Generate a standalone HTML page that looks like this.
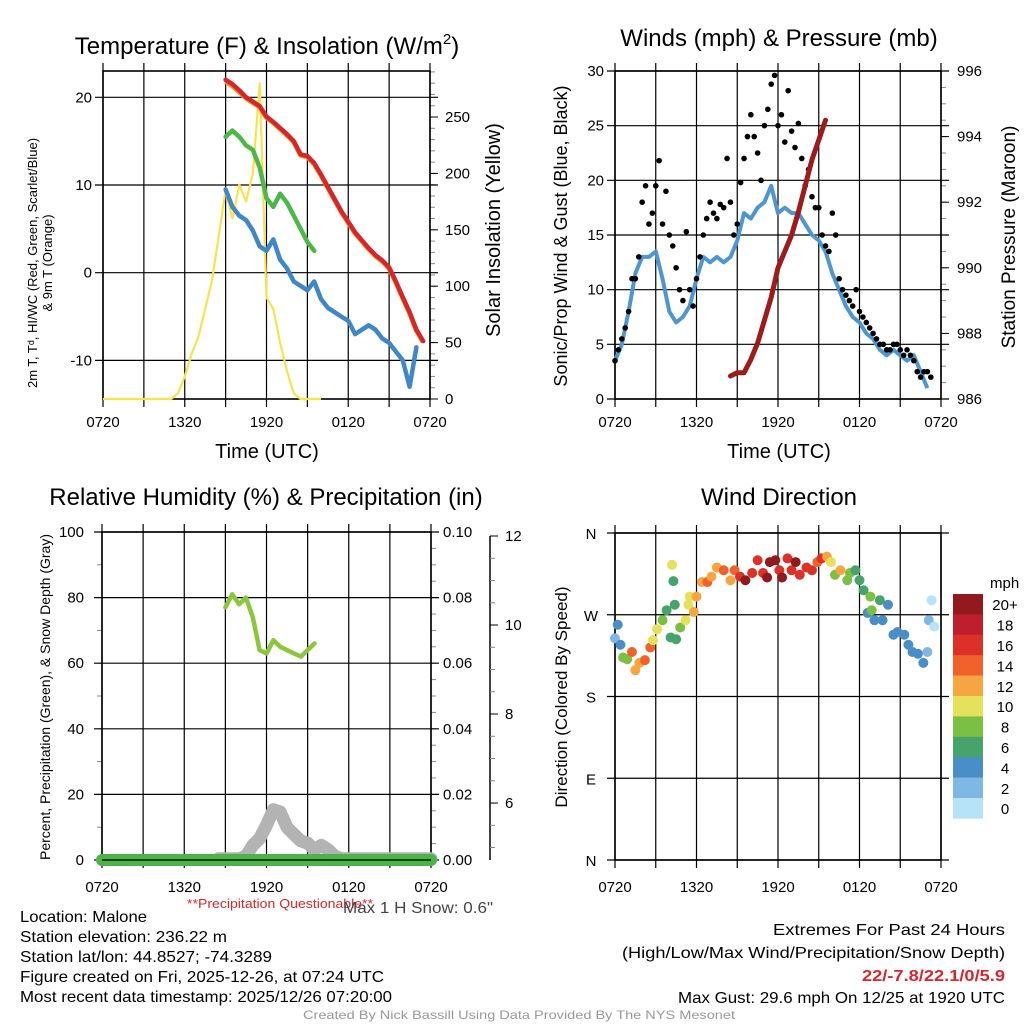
<!DOCTYPE html>
<html><head><meta charset="utf-8"><style>
html,body{margin:0;padding:0;background:#fff}
svg{display:block;font-family:"Liberation Sans",sans-serif}
</style></head><body>
<svg id="s" width="1024" height="1024" viewBox="0 0 1024 1024" xmlns="http://www.w3.org/2000/svg">
<g font-size="24" text-anchor="middle" fill="#000">
<text x="267" y="54">Temperature (F) &amp; Insolation (W/m<tspan dy="-10" font-size="15">2</tspan><tspan dy="10">)</tspan></text>
<text x="779" y="46">Winds (mph) &amp; Pressure (mb)</text>
<text x="266" y="505">Relative Humidity (%) &amp; Precipitation (in)</text>
<text x="779" y="505">Wind Direction</text>
</g>
<g id="plots"></g>
<g font-size="16" fill="#000">
<text x="187" y="908" font-size="13" fill="#d8262b" textLength="186" lengthAdjust="spacingAndGlyphs">**Precipitation Questionable**</text>
<text x="343" y="913" fill="#444" textLength="150" lengthAdjust="spacingAndGlyphs">Max 1 H Snow: 0.6"</text>
<text x="20" y="922" textLength="127" lengthAdjust="spacingAndGlyphs">Location: Malone</text>
<text x="20" y="942" textLength="207" lengthAdjust="spacingAndGlyphs">Station elevation: 236.22 m</text>
<text x="20" y="962" textLength="252" lengthAdjust="spacingAndGlyphs">Station lat/lon: 44.8527; -74.3289</text>
<text x="20" y="982" textLength="364" lengthAdjust="spacingAndGlyphs">Figure created on Fri, 2025-12-26, at 07:24 UTC</text>
<text x="20" y="1002" textLength="372" lengthAdjust="spacingAndGlyphs">Most recent data timestamp: 2025/12/26 07:20:00</text>
<text x="773" y="935" textLength="232" lengthAdjust="spacingAndGlyphs">Extremes For Past 24 Hours</text>
<text x="622" y="958" textLength="383" lengthAdjust="spacingAndGlyphs">(High/Low/Max Wind/Precipitation/Snow Depth)</text>
<text x="862" y="981" textLength="143" lengthAdjust="spacingAndGlyphs" fill="#d8262b" font-weight="bold">22/-7.8/22.1/0/5.9</text>
<text x="678" y="1003" textLength="327" lengthAdjust="spacingAndGlyphs">Max Gust: 29.6 mph On 12/25 at 1920 UTC</text>
<text x="303" y="1019" font-size="12" fill="#999" textLength="432" lengthAdjust="spacingAndGlyphs">Created By Nick Bassill Using Data Provided By The NYS Mesonet</text>
</g>
</svg>
<script>
// ---------- data (time in hours since 0720 UTC) ----------
const xTickLabels = ["0720","1320","1920","0120","0720"];
const tempStart = 9, tempStep = 0.5;
const tempRed = [22,21.5,20.8,20,19.5,19,17.8,17.2,16.5,15.8,15,13.5,13.3,12.5,11.2,9.8,8.4,7,5.8,4.6,3.7,2.8,2,1.4,0.6,-1,-2.8,-4.5,-6.5,-7.8];
const tempOrange = [21.8,21.3,20.6,19.9,19.4,18.9,17.7,17.1,16.4,15.7,14.9,13.4,13.2,12.4,11.1,9.7,8.3,6.9,5.7,4.5,3.6,2.7,1.9,1.3,0.5,-1.1,-2.9,-4.6,-6.6,-7.9];
const dewGreen = [15.5,16.2,15.5,14.5,14,12,8.5,7.5,9,8,6.5,5,3.5,2.5];
const chillBlue = [9.5,7.5,6.5,6,4.8,3,2.5,3.8,1.5,0.5,-1,-1.5,-2,-1,-3,-4,-4.5,-5,-5.5,-7,-6.5,-6,-6.5,-7.5,-8,-9,-10,-13,-8.5];
const solarStart = 0, solarStep = 0.5;
const solarYellow = [0,0,0,0,0,0,0,0,0,0,0,5,20,40,55,80,105,145,185,160,190,175,200,280,90,80,50,25,5,0,0,0,0];
const windStart = 0, windStep = 0.5;
const windBlue = [3.5,5,8,11.5,13,13,13.5,11,8,7,7.5,8.5,11,13,12.5,13,12.5,13,14.5,17,16.5,17.5,18,19.5,17,17.5,17,17,16,15,14.5,13.5,11.5,10,8.5,7.5,7,6,5.5,4.5,4,4.5,4,3.5,4,2.5,1];
const gustStart = 0, gustStep = 0.25;
const gustBlack = [3.5,4.5,5.5,6.5, 8,11,11,13, 18,19.5,16,17, 19.5,21.8,16,19, 15,14,12,10, 9,15.3,10,8.5, 11,13,15,16.5, 18,17,16.5,17.8, 17.5,22,18,15, 16,19.8,22,24, 26,24,22.5,20, 25,26.5,28.8,29.6, 25,26,23.5,28.2, 24.5,23,25.2,22, 19.5,21,18.5,17.5, 17.5,15,14,13.5, 17,15,11,10, 9.5,9,8.5,10, 8,7.5,7,6.5, 6,5.5,5,5, 4.5,4.5,5,5, 4.5,4,4.5,4, 3.5,2.5,2,2.5, 2.5,2];
const presStart = 8.5, presStep = 0.5;
const pressure = [986.7,986.8,986.8,987.2,987.7,988.4,989.1,990,990.5,991,991.7,992.5,993.3,993.9,994.5];
const rhStart = 9, rhStep = 0.5;
const rhGreen = [77,81,78,80,74,64,63,67,65,64,63,62,64,66];
const precipStart = 0, precipStep = 1;
const precip = [0,0,0,0,0,0,0,0,0,0,0,0,0,0,0,0,0,0,0,0,0,0,0,0,0];
const snowStart = 8.5, snowStep = 0.5;
const snowDepth = [4.75,4.75,4.75,4.75,4.8,5.05,5.2,5.5,5.85,5.8,5.45,5.3,5.15,5.1,4.95,5.05,4.95,4.8,4.75,4.75,4.75,4.75,4.75,4.75,4.75,4.75,4.75,4.75,4.75,4.75,4.75,4.75];
const dirTimes = [0,0.2,0.4,0.6,0.9,1.25,1.5,1.8,2.2,2.6,2.8,3.1,3.5,3.8,4.1,4.2,4.3,4.4,4.5,4.8,5.2,5.4,5.5,5.8,6,6.4,6.8,7.1,7.5,8,8.5,8.8,9.2,9.6,10.1,10.5,10.9,11.2,11.4,11.8,12.1,12.3,12.7,13,13.3,13.6,14.1,14.5,14.9,15.2,15.6,15.9,16.2,16.6,17.1,17.3,17.7,18,18.3,18.6,18.8,18.9,19.1,19.5,19.7,20.1,20.5,20.8,21.3,21.6,21.9,22.3,22.7,23,23.1,23.3,23.5];
const dirDeg = [244,259,237,223,221,229,209,217,220,234,242,254,264,275,245,325,307,281,243,256,264,281,290,273,290,306,306,312,322,319,308,319,312,308,316,330,316,311,328,330,319,311,332,319,328,314,322,319,328,332,334,328,314,319,308,316,319,308,297,272,290,275,264,286,264,281,248,251,248,237,229,227,217,229,264,286,257];
const dirSpeed = [3,5,5,9,9,15,13,13,15,15,11,11,9,7,7,11,7,7,7,9,11,11,11,13,13,13,15,13,13,15,13,15,17,21,17,17,17,21,21,21,17,21,17,17,21,17,17,17,15,17,13,11,9,13,9,9,7,7,7,5,9,9,5,7,5,5,5,5,5,5,5,5,5,3,3,1,1];
const speedBins = ["0","2","4","6","8","10","12","14","16","18","20+"];
const speedColors = ["#b7e3f8","#7fb9e3","#4a8ec8","#45a36b","#7bc043","#e6e15a","#f7a541","#f0622a","#dc3128","#be1e2d","#921a1c"];

// ---------- helpers ----------
const NS = "http://www.w3.org/2000/svg";
const root = document.getElementById("plots");
function el(tag, attrs, parent){ const e=document.createElementNS(NS,tag); for(const k in attrs) e.setAttribute(k,attrs[k]); (parent||root).appendChild(e); return e; }
function lin(d0,d1,r0,r1){ return v => r0 + (v-d0)/(d1-d0)*(r1-r0); }
function txt(x,y,s,attrs,parent){ const t=el("text",Object.assign({x:x,y:y},attrs||{}),parent); t.textContent=s; return t; }
function pathFrom(start,step,arr,sx,sy){ return arr.map((v,i)=>(i?"L":"M")+sx(start+i*step).toFixed(1)+","+sy(v).toFixed(1)).join(""); }

function frame(g,x0,x1,y0,y1,sx,yGridVals,sy,tickLabels,labelY){
  for(let h=0;h<=24;h+=3){
    const x=sx(h);
    const l=el("line",{x1:x,x2:x,y1:y0-8,y2:y1+8,stroke:"#000","stroke-width":1.2},g);
    
    
  }
  yGridVals.forEach(v=>{
    const y=sy(v);
    const l=el("line",{x1:x0-8,x2:x1+8,y1:y,y2:y,stroke:"#000","stroke-width":1.2},g);
    
    
  });
  const r=el("rect",{x:x0,y:y0,width:x1-x0,height:y1-y0,fill:"none",stroke:"#000","stroke-width":1.6},g);
  
  
  tickLabels.forEach((s,i)=>{
    const t=txt(sx(i*6),labelY,s,{"font-size":15,"text-anchor":"middle"},g);
    
    
  });
}
function yLabels(g,vals,sy,x,anchor,fmt){
  vals.forEach(v=>{
    const t=txt(x,sy(v)+5,fmt?fmt(v):String(v),{"font-size":15,"text-anchor":anchor},g);
    
    
  });
}
function minorTicks(g,x,dir,from,to,step,sy){
  for(let v=from;v<=to+1e-9;v+=step){
    const l=el("line",{x1:x,x2:x+dir*5,y1:sy(v),y2:sy(v),stroke:"#888","stroke-width":1},g);
    
    
  }
}
function rotText(x,y,s,size,g){
  const t=txt(x,y,s,{"font-size":size,"text-anchor":"middle",transform:"rotate(-90 "+x+" "+y+")"},g);
  return t;
}

// ---------- Panel 1: temperature ----------
(function(){
  const g=el("g",{});  
  const x0=103,x1=430,y0=71,y1=399;
  const sx=lin(0,24,x0,x1), sy=lin(-14.4,23,y1,y0), sr=lin(0,290.8,y1,y0);
  minorTicks(g,x1,1,0,290,10,sr);
  frame(g,x0,x1,y0,y1,sx,[-10,0,10,20],sy,xTickLabels,427);
  yLabels(g,[-10,0,10,20],sy,92,"end");
  [0,50,100,150,200,250].forEach(v=>{const l=el("line",{x1:x1,x2:x1+8,y1:sr(v),y2:sr(v),stroke:"#000"},g);  });
  yLabels(g,[0,50,100,150,200,250],sr,445,"start");
  const ys=el("path",{d:pathFrom(solarStart,solarStep,solarYellow,sx,sr),fill:"none",stroke:"#f9e24c","stroke-width":2.2,"stroke-linejoin":"round"},g);
   
  const ob=el("path",{d:pathFrom(tempStart,tempStep,tempOrange,sx,sy),fill:"none",stroke:"#f7941d","stroke-width":5,"stroke-linejoin":"round"},g);
   
  const rd=el("path",{d:pathFrom(tempStart,tempStep,tempRed,sx,sy),fill:"none",stroke:"#d7262b","stroke-width":4.5,"stroke-linejoin":"round","stroke-linecap":"round"},g);
   
  const gr=el("path",{d:pathFrom(tempStart,tempStep,dewGreen,sx,sy),fill:"none",stroke:"#4cb848","stroke-width":4.5,"stroke-linejoin":"round","stroke-linecap":"round"},g);
   
  const bl=el("path",{d:pathFrom(tempStart,tempStep,chillBlue,sx,sy),fill:"none",stroke:"#3f87c6","stroke-width":4.5,"stroke-linejoin":"round","stroke-linecap":"round"},g);
   
  const xt=txt(267,458,"Time (UTC)",{"font-size":20,"text-anchor":"middle"},g);
   
  const t1=rotText(37,263,"2m T, T\u1d48, HI/WC (Red, Green, Scarlet/Blue)",13,g);
   
  const t2=rotText(52,263,"& 9m T (Orange)",13,g);
   
  const t3=rotText(500,230,"Solar Insolation (Yellow)",20,g);
   
})();

// ---------- Panel 2: winds ----------
(function(){
  const g=el("g",{});  
  const x0=615,x1=941,y0=71,y1=399;
  const sx=lin(0,24,x0,x1), sy=lin(0,30,y1,y0), sp=lin(986,996,y1,y0);
  minorTicks(g,x1,1,986,996,0.5,sp);
  frame(g,x0,x1,y0,y1,sx,[0,5,10,15,20,25,30],sy,xTickLabels,427);
  yLabels(g,[0,5,10,15,20,25,30],sy,604,"end");
  [986,988,990,992,994,996].forEach(v=>{const l=el("line",{x1:x1,x2:x1+8,y1:sp(v),y2:sp(v),stroke:"#000"},g);  });
  yLabels(g,[986,988,990,992,994,996],sp,957,"start");
  const wb=el("path",{d:pathFrom(windStart,windStep,windBlue,sx,sy),fill:"none",stroke:"#4e96d2","stroke-width":4,"stroke-linejoin":"round"},g);
   
  gustBlack.forEach((v,i)=>{
    const c=el("circle",{cx:sx(gustStart+i*gustStep),cy:sy(v),r:2.8,fill:"#000"},g);
    
    
  });
  const pr=el("path",{d:pathFrom(presStart,presStep,pressure,sx,sp),fill:"none",stroke:"#9e1b1b","stroke-width":5,"stroke-linejoin":"round","stroke-linecap":"round"},g);
   
  const xt=txt(779,458,"Time (UTC)",{"font-size":20,"text-anchor":"middle"},g);
   
  const t1=rotText(567,236,"Sonic/Prop Wind & Gust (Blue, Black)",18,g);
   
  const t2=rotText(1015,237,"Station Pressure (Maroon)",19,g);
   
})();

// ---------- Panel 3: humidity ----------
(function(){
  const g=el("g",{});  
  const x0=102,x1=431,y0=532,y1=860;
  const sx=lin(0,24,x0,x1), sy=lin(0,100,y1,y0), sr=lin(0,0.1,y1,y0), ss=lin(4.72,12,y1,536);
  minorTicks(g,x1,1,0,0.1,0.005,sr);
  minorTicks(g,x0,-1,0,100,10,sy);
  frame(g,x0,x1,y0,y1,sx,[0,20,40,60,80,100],sy,xTickLabels,892);
  yLabels(g,[0,20,40,60,80,100],sy,84,"end");
  yLabels(g,[0,0.02,0.04,0.06,0.08,0.1],sr,443,"start",v=>v.toFixed(2));
  const ax=el("line",{x1:490,x2:490,y1:536,y2:860,stroke:"#000","stroke-width":1.5},g);
   
  minorTicks(g,490,1,5,12,0.5,ss);
  [6,8,10,12].forEach(v=>{const l=el("line",{x1:490,x2:498,y1:ss(v),y2:ss(v),stroke:"#000"},g);  });
  yLabels(g,[6,8,10,12],ss,505,"start");
  const sd=el("path",{d:pathFrom(snowStart,snowStep,snowDepth,sx,ss),fill:"none",stroke:"#b3b3b3","stroke-width":13,"stroke-linejoin":"round","stroke-linecap":"round"},g);
   
  const pc=el("path",{d:pathFrom(precipStart,precipStep,precip,sx,sr),fill:"none",stroke:"#4bb34a","stroke-width":12,"stroke-linecap":"round"},g);
   
  const bl=el("line",{x1:x0,x2:x1,y1:y1,y2:y1,stroke:"#000","stroke-width":1.2},g);
   
  const rh=el("path",{d:pathFrom(rhStart,rhStep,rhGreen,sx,sy),fill:"none",stroke:"#8cc63f","stroke-width":4.5,"stroke-linejoin":"round","stroke-linecap":"round"},g);
   
  const t1=rotText(50,697,"Percent, Precipitation (Green), & Snow Depth (Gray)",14,g);
   
})();

// ---------- Panel 4: wind direction ----------
(function(){
  const g=el("g",{});  
  const x0=615,x1=941,y0=533,y1=860;
  const sx=lin(0,24,x0,x1), sy=lin(0,360,y1,y0);
  frame(g,x0,x1,y0,y1,sx,[0,90,180,270,360],sy,xTickLabels,892);
  const dl=["N","E","S","W","N"];
  [0,90,180,270,360].forEach((v,i)=>{const t=txt(591,sy(v)+6,dl[i],{"font-size":15,"text-anchor":"middle"},g);  });
  dirDeg.forEach((d,i)=>{
    const bin=Math.min(10,Math.floor(dirSpeed[i]/2));
    const c=el("circle",{cx:sx(dirTimes[i]),cy:sy(d),r:5,fill:speedColors[bin]},g);
    
    
  });
  const t1=rotText(567,697,"Direction (Colored By Speed)",17,g);
   
  const lg=el("g",{},g);  
  const lt=txt(990,588,"mph",{"font-size":15},lg);
   
  const bh=20.4;
  for(let i=0;i<speedBins.length;i++){
    const k=speedBins.length-1-i;
    const y=594+i*bh;
    const r=el("rect",{x:953,y:y,width:30,height:bh+0.3,fill:speedColors[k]},lg);
    
    
    const t=txt(1005,y+bh/2+6,speedBins[k],{"font-size":15,"text-anchor":"middle"},lg);
    
    
  }
})();
</script>
</body></html>
